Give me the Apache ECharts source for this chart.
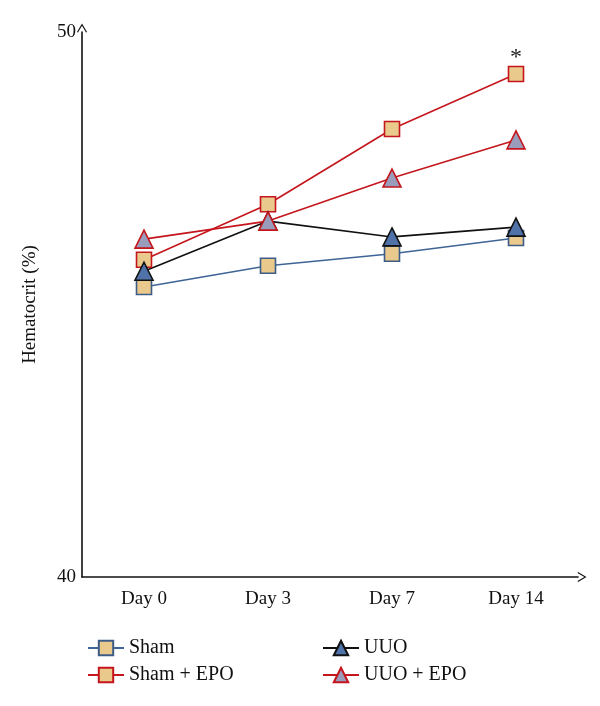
<!DOCTYPE html>
<html><head><meta charset="utf-8">
<script src="https://cdn.jsdelivr.net/npm/echarts@6/dist/echarts.min.js"></script>
<style>html,body{margin:0;padding:0;background:#fff}#c{width:600px;height:706px}</style>
</head><body><div id="c"></div>
<script>
var categories = ['Day 0', 'Day 3', 'Day 7', 'Day 14'];
var sham = [45.32, 45.71, 45.93, 46.22];
var shamEpo = [45.82, 46.84, 48.22, 49.23];
var uuo = [45.61, 46.53, 46.24, 46.42];
var uuoEpo = [46.20, 46.53, 47.32, 48.02];
var yTicks = [40, 50];
var seriesNames = ['Sham', 'Sham + EPO', 'UUO', 'UUO + EPO'];
var sigMark = '*';

var FONT = '"Liberation Serif", "DejaVu Serif", serif';
var chevron = 'path://M0,10 L6,0 L12,10 L10.8,10.7 L6,2.6 L1.2,10.7 Z';
var chart = echarts.init(document.getElementById('c'));

function mk(name, data, lineColor, fill, border, sym, size) {
  return {
    name: name, type: 'line', data: data, symbol: sym, symbolSize: size,
    lineStyle: { color: lineColor, width: 1.6 },
    itemStyle: { color: fill, borderColor: border, borderWidth: 1.6 },
    emphasis: { disabled: true }, z: 3
  };
}

var shamEpoData = shamEpo.map(function (v, i) {
  if (i === shamEpo.length - 1) {
    return { value: v, label: { show: true, position: 'top', distance: -4, formatter: sigMark,
      fontFamily: FONT, fontSize: 24, color: '#222' } };
  }
  return v;
});

chart.setOption({
  animation: false,
  grid: { left: 82, right: 22, top: 32, bottom: 129 },
  legend: [
    { data: [seriesNames[0], seriesNames[1]], orient: 'vertical', left: 82, top: 633, itemGap: 7,
      itemWidth: 36, itemHeight: 18, textStyle: { fontFamily: FONT, fontSize: 20, color: '#111' } },
    { data: [seriesNames[2], seriesNames[3]], orient: 'vertical', left: 317, top: 633, itemGap: 7,
      itemWidth: 36, itemHeight: 18, textStyle: { fontFamily: FONT, fontSize: 20, color: '#111' } }
  ],
  xAxis: {
    type: 'category', data: categories, boundaryGap: true,
    axisLine: { lineStyle: { color: '#111', width: 1.6 }, symbol: ['none', chevron], symbolSize: [12, 9], symbolOffset: [0, 4] },
    axisTick: { show: false },
    axisLabel: { fontFamily: FONT, fontSize: 19, color: '#111', margin: 13 }
  },
  yAxis: {
    type: 'value', min: 40, max: 50, interval: 10,
    name: 'Hematocrit (%)', nameLocation: 'middle', nameGap: 42, nameRotate: 90,
    nameTextStyle: { fontFamily: FONT, fontSize: 19, color: '#111' },
    axisLine: { show: true, lineStyle: { color: '#111', width: 1.6 }, symbol: ['none', chevron], symbolSize: [12, 9], symbolOffset: [0, 4] },
    axisTick: { show: false }, splitLine: { show: false },
    axisLabel: { fontFamily: FONT, fontSize: 19, color: '#111', margin: 6,
      formatter: function (v) { return yTicks.indexOf(v) >= 0 ? String(v) : ''; } }
  },
  series: [
    mk(seriesNames[0], sham, '#3f6596', '#e9c98c', '#3d5d88', 'rect', 15),
    mk(seriesNames[1], shamEpoData, '#c4161c', '#e9c98c', '#c4161c', 'rect', 15),
    mk(seriesNames[2], uuo, '#111111', '#4f72a8', '#111111', 'triangle', 18),
    mk(seriesNames[3], uuoEpo, '#c4161c', '#9a9cbc', '#c4161c', 'triangle', 18)
  ]
});
</script></body></html>
